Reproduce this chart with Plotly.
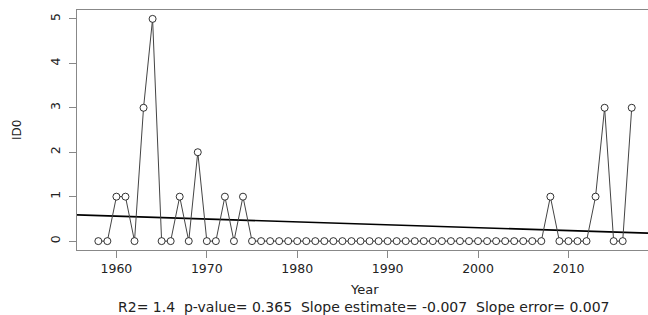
import numpy as np
import plotly.graph_objects as go

years = list(range(1958, 2018))
values = [0, 0, 1, 1, 0, 3, 5, 0, 0, 1, 0, 2, 0, 0, 1, 0, 1, 0] + [0] * 32 + \
         [1, 0, 0, 0, 0, 1, 3, 0, 0, 3]
# years 1958..1975 (18), 1976..2007 (32), 2008..2017 (10)
x_ticks = [1960, 1970, 1980, 1990, 2000, 2010]
y_ticks = [0, 1, 2, 3, 4, 5]
stats_text = "R2= 1.4  p-value= 0.365  Slope estimate= -0.007  Slope error= 0.007"

slope, intercept = np.polyfit(years, values, 1)
x_lo, x_hi = 1955.64, 2018.8

fig = go.Figure()
fig.add_trace(go.Scatter(
    x=[x_lo, x_hi], y=[intercept + slope * x_lo, intercept + slope * x_hi],
    mode="lines", line=dict(color="black", width=1.6), hoverinfo="skip", showlegend=False))
fig.add_trace(go.Scatter(
    x=years, y=values, mode="lines+markers",
    line=dict(color="#444444", width=1),
    marker=dict(symbol="circle", size=7, color="white", line=dict(color="black", width=0.8)),
    showlegend=False))

fam = "DejaVu Sans, Arial, sans-serif"
font = dict(family=fam, size=12.5, color="#222222")
fig.update_layout(
    width=648, height=315,
    margin=dict(l=77, r=0, t=10, b=65),
    plot_bgcolor="white", paper_bgcolor="white",
    font=font,
    xaxis=dict(range=[x_lo, x_hi], tickvals=x_ticks, showgrid=False, zeroline=False,
               showline=True, mirror=True, linecolor="#888888", linewidth=1,
               ticks="outside", ticklen=7, tickcolor="#888888", tickfont=font,
               ticklabelstandoff=0),
    yaxis=dict(range=[-0.2, 5.2], tickvals=y_ticks, showgrid=False, zeroline=False,
               showline=True, linecolor="#888888", linewidth=1,
               ticks="outside", ticklen=7, tickcolor="#888888", tickangle=-90,
               ticklabelstandoff=4, tickfont=font),
    annotations=[
        dict(text="Year", x=0.503, y=-0.165, xref="paper", yref="paper",
             showarrow=False, xanchor="center", yanchor="middle",
             font=dict(family=fam, size=13, color="#222222")),
        dict(text=stats_text, x=0.503, y=-0.238, xref="paper", yref="paper",
             showarrow=False, xanchor="center", yanchor="middle",
             font=dict(family=fam, size=14, color="#222222")),
        dict(text="ID0", x=-0.105, y=0.5, xref="paper", yref="paper", textangle=-90,
             showarrow=False, xanchor="center", yanchor="middle",
             font=dict(family=fam, size=12, color="#222222")),
    ],
)
fig.write_html("out.html", config={"displayModeBar": False},
               post_script="document.body.style.margin='0';")
